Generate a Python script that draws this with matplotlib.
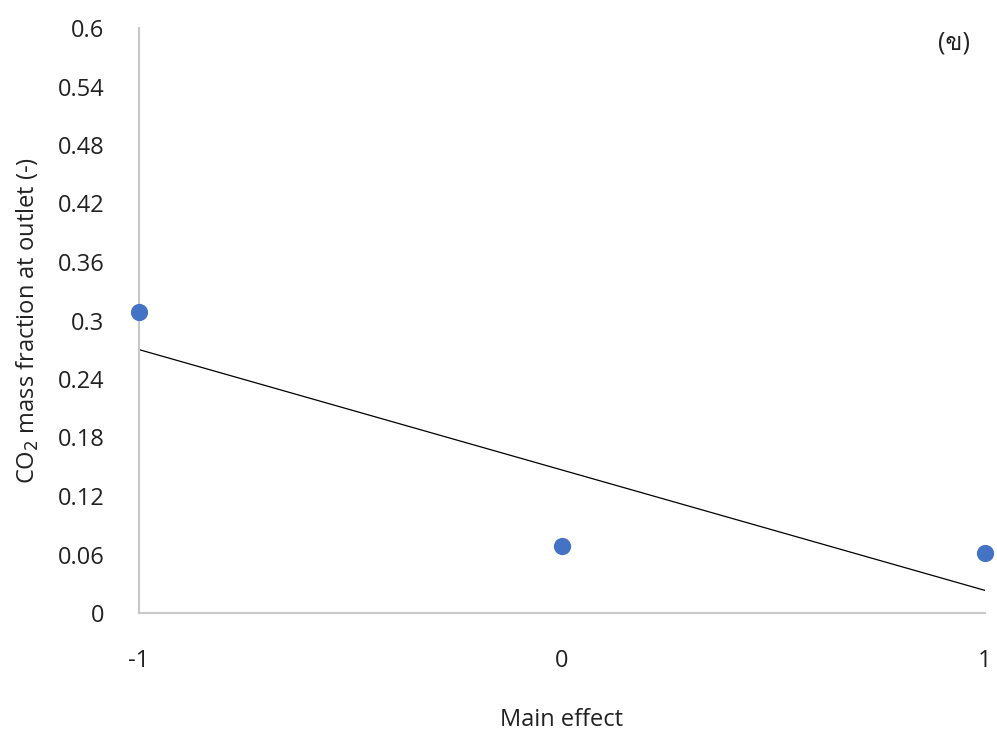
import numpy as np
import matplotlib
matplotlib.use("Agg")
import matplotlib.pyplot as plt
from matplotlib import font_manager

# main effect levels and CO2 mass fraction at the outlet
levels = [-1, 0, 1]
co2_frac = [0.309, 0.069, 0.062]
yticks = [0, 0.06, 0.12, 0.18, 0.24, 0.3, 0.36, 0.42, 0.48, 0.54, 0.6]
ytick_labels = ["0", "0.06", "0.12", "0.18", "0.24", "0.3", "0.36", "0.42", "0.48", "0.54", "0.6"]
xticks = [-1, 0, 1]
panel_tag = "(ข)"

# latin text in Open Sans, Thai glyphs from whatever Thai family is installed
thai_fonts = [f.name for f in font_manager.fontManager.ttflist if "Thai" in f.name or "Loma" in f.name or "Garuda" in f.name]
plt.rcParams["font.family"] = ["Open Sans"] + thai_fonts[:1] + ["DejaVu Sans"]
plt.rcParams["axes.unicode_minus"] = False

fig = plt.figure(figsize=(9.97, 7.34), dpi=100)
ax = fig.add_axes([139/997, 1-613/734, (985-139)/997, (613-28)/734])

# linear trendline through the three points
slope, icpt = np.polyfit(levels, co2_frac, 1)
xs = np.array([levels[0], levels[-1]])
ax.plot(xs, slope*xs + icpt, color="black", lw=0.9, zorder=2)
ax.scatter(levels, co2_frac, s=130, color="#4472C4", zorder=3, clip_on=False)

ax.set_xlim(-1, 1)
ax.set_ylim(0, 0.6)
ax.set_yticks(yticks)
ax.set_yticklabels(ytick_labels)
ax.set_xticks(xticks)
ax.tick_params(length=0, labelsize=17, colors="#222222")
ax.tick_params(axis="x", pad=26)
ax.tick_params(axis="y", pad=25)
for side in ["top", "right"]:
    ax.spines[side].set_visible(False)
for side in ["left", "bottom"]:
    ax.spines[side].set_color("#c8c8c8")
    ax.spines[side].set_linewidth(1.5)

ax.set_xlabel("Main effect", fontsize=17, labelpad=25, color="#222222")
ax.set_ylabel("CO$_2$ mass fraction at outlet (-)", fontsize=17, labelpad=12, color="#222222")
ax.text(0.963, 0.975, panel_tag, transform=ax.transAxes, fontsize=18, ha="center", va="center", color="#222222")

fig.savefig("out.png", dpi=100)
